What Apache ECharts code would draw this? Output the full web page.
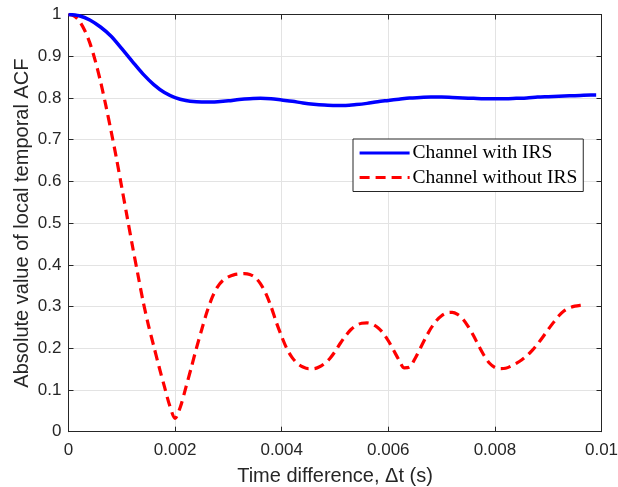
<!DOCTYPE html>
<html>
<head>
<meta charset="utf-8">
<script src="https://cdn.jsdelivr.net/npm/echarts@6/dist/echarts.min.js"></script>
<style>
html,body{margin:0;padding:0;background:#fff;}
#chart{width:618px;height:487px;}
</style>
</head>
<body>
<div id="chart"></div>
<script>
// ---- Data ----
const seriesNames = ['Channel with IRS', 'Channel without IRS'];

const blueTime = [0,0.0002,0.0004,0.0006,0.0008,0.001,0.0012,0.0014,0.0016,0.0018,
  0.002,0.0022,0.0024,0.0026,0.0028,0.003,0.0032,0.0034,0.0036,0.0038,
  0.004,0.0042,0.0044,0.0046,0.0048,0.005,0.0052,0.0054,0.0056,0.0058,
  0.006,0.0062,0.0064,0.0066,0.0068,0.007,0.0072,0.0074,0.0076,0.0078,
  0.008,0.0082,0.0084,0.0086,0.0088,0.009,0.0092,0.0094,0.0096,0.0098,0.0099];
const blueValues = [1.0,0.997,0.987,0.97,0.948,0.918,0.887,0.857,0.832,0.813,
  0.801,0.794,0.791,0.790,0.791,0.793,0.796,0.798,0.799,0.798,
  0.795,0.792,0.788,0.785,0.783,0.782,0.782,0.784,0.787,0.791,
  0.794,0.797,0.800,0.801,0.802,0.802,0.801,0.800,0.799,0.798,
  0.798,0.798,0.799,0.800,0.802,0.803,0.804,0.805,0.806,0.807,0.807];

const redTime = [0,0.0001,0.0002,0.0003,0.0004,0.0005,0.0006,0.0007,0.0008,0.0009,
  0.001,0.0011,0.0012,0.0013,0.0014,0.0015,0.0016,0.0017,0.0018,0.0019,
  0.002,0.0021,0.0022,0.0023,0.0024,0.0025,0.0026,0.0027,0.0028,0.0029,
  0.003,0.0031,0.0032,0.0033,0.0034,0.0035,0.0036,0.0037,0.0038,0.0039,
  0.004,0.0041,0.0042,0.0043,0.0044,0.0045,0.0046,0.0047,0.0048,0.0049,
  0.005,0.0051,0.0052,0.0053,0.0054,0.0055,0.0056,0.0057,0.0058,0.0059,
  0.006,0.0061,0.0062,0.0063,0.0064,0.0065,0.0066,0.0067,0.0068,0.0069,
  0.007,0.0071,0.0072,0.0073,0.0074,0.0075,0.0076,0.0077,0.0078,0.0079,
  0.008,0.0081,0.0082,0.0083,0.0084,0.0085,0.0086,0.0087,0.0088,0.0089,
  0.009,0.0091,0.0092,0.0093,0.0094,0.0095,0.0096,0.0097];
const redValues = [1.0,0.997,0.985,0.963,0.932,0.89,0.84,0.782,0.72,0.655,
  0.585,0.515,0.445,0.378,0.312,0.255,0.205,0.155,0.108,0.062,
  0.032,0.06,0.105,0.152,0.2,0.245,0.288,0.323,0.348,0.363,
  0.371,0.376,0.378,0.379,0.377,0.37,0.355,0.332,0.3,0.262,
  0.228,0.198,0.177,0.163,0.155,0.151,0.151,0.155,0.163,0.175,
  0.192,0.212,0.23,0.245,0.255,0.26,0.261,0.258,0.25,0.237,
  0.218,0.195,0.172,0.153,0.155,0.175,0.2,0.225,0.248,0.266,
  0.278,0.285,0.286,0.281,0.27,0.252,0.23,0.205,0.182,0.164,
  0.154,0.151,0.152,0.157,0.164,0.172,0.182,0.195,0.21,0.227,
  0.245,0.262,0.278,0.29,0.297,0.301,0.303,0.304];

const xTickLabels = ['0','0.002','0.004','0.006','0.008','0.01'];
const yTickLabels = ['0','0.1','0.2','0.3','0.4','0.5','0.6','0.7','0.8','0.9','1'];

// ---- Chart ----
const xInterval = 0.002, yInterval = 0.1;
const axisColor = '#262626';
const gridColor = '#e3e3e3';
const sansFont = '"Liberation Sans", Arial, Helvetica, sans-serif';

const chart = echarts.init(document.getElementById('chart'), null, {renderer: 'canvas'});

function pairs(xs, ys) { return xs.map((x, i) => [x, ys[i]]); }

const option = {
  backgroundColor: '#ffffff',
  animation: false,
  grid: {left: 68.5, right: 16.5, top: 14.5, bottom: 55.3, containLabel: false, outerBoundsMode: 'none'},
  legend: {
    orient: 'vertical',
    left: 353,
    top: 139,
    backgroundColor: '#ffffff',
    borderColor: axisColor,
    borderWidth: 1,
    borderRadius: 0,
    padding: [4, 6, 4, 5],
    itemWidth: 50,
    itemHeight: 20,
    itemGap: 4.5,
    itemStyle: {opacity: 0},
    lineStyle: {width: 3.2},
    textStyle: {fontFamily: '"Liberation Serif", "Times New Roman", serif', fontSize: 19.5, color: '#000', lineHeight: 20, padding: [0,0,0,-2]},
    data: seriesNames
  },
  xAxis: [{
    type: 'value', min: 0, max: 0.01, interval: xInterval,
    name: 'Time difference, \u0394t (s)', nameLocation: 'middle', nameGap: 35,
    nameMoveOverlap: false,
    nameTextStyle: {fontFamily: sansFont, fontSize: 20, color: axisColor},
    axisLine: {show: true, onZero: false, lineStyle: {color: axisColor, width: 1}},
    axisTick: {show: true, inside: true, length: 5, lineStyle: {color: axisColor}},
    axisLabel: {fontFamily: sansFont, fontSize: 17, color: axisColor, margin: 10,
      formatter: v => xTickLabels[Math.round(v / xInterval)]},
    splitLine: {show: true, lineStyle: {color: gridColor, width: 1}}
  }, {
    type: 'value', min: 0, max: 0.01, interval: xInterval, position: 'top',
    axisLine: {show: true, onZero: false, lineStyle: {color: axisColor, width: 1}},
    axisTick: {show: true, inside: true, length: 5, lineStyle: {color: axisColor}},
    axisLabel: {show: false}, splitLine: {show: false}
  }],
  yAxis: [{
    type: 'value', min: 0, max: 1, interval: yInterval,
    name: 'Absolute value of local temporal ACF', nameLocation: 'middle', nameGap: 36,
    nameMoveOverlap: false,
    nameTextStyle: {fontFamily: sansFont, fontSize: 20, color: axisColor},
    axisLine: {show: true, onZero: false, lineStyle: {color: axisColor, width: 1}},
    axisTick: {show: true, inside: true, length: 5, lineStyle: {color: axisColor}},
    axisLabel: {fontFamily: sansFont, fontSize: 17, color: axisColor, margin: 7,
      formatter: v => yTickLabels[Math.round(v / yInterval)]},
    splitLine: {show: true, lineStyle: {color: gridColor, width: 1}}
  }, {
    type: 'value', min: 0, max: 1, interval: yInterval, position: 'right',
    axisLine: {show: true, onZero: false, lineStyle: {color: axisColor, width: 1}},
    axisTick: {show: true, inside: true, length: 5, lineStyle: {color: axisColor}},
    axisLabel: {show: false}, splitLine: {show: false}
  }],
  series: [{
    name: seriesNames[0], type: 'line', xAxisIndex: 0, yAxisIndex: 0,
    data: pairs(blueTime, blueValues),
    showSymbol: false, symbol: 'none', smooth: 0.3,
    lineStyle: {color: '#0000ff', width: 3.5},
    itemStyle: {color: '#0000ff'},
    z: 3
  }, {
    name: seriesNames[1], type: 'line', xAxisIndex: 0, yAxisIndex: 0,
    data: pairs(redTime, redValues),
    showSymbol: false, symbol: 'none', smooth: 0.3,
    lineStyle: {color: '#ff0000', width: 3.2, type: [10, 6]},
    itemStyle: {color: '#ff0000'},
    z: 2
  }]
};
chart.setOption(option);
</script>
</body>
</html>
